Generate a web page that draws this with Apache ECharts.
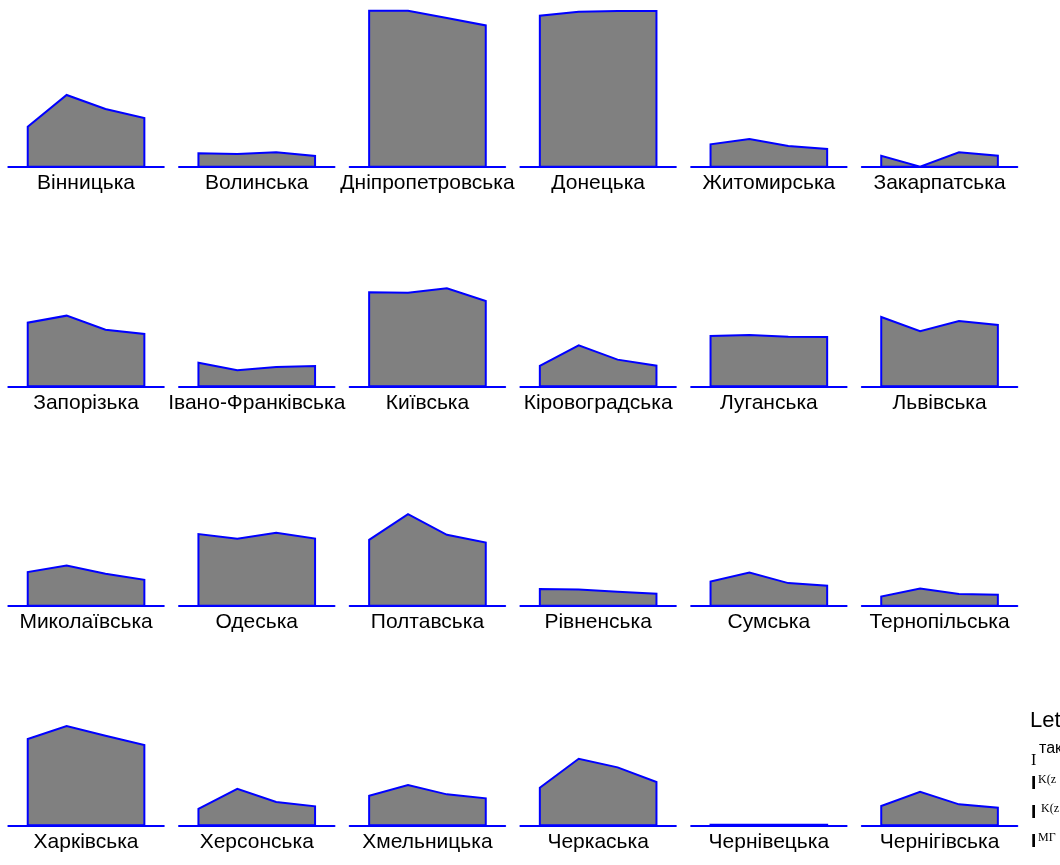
<!DOCTYPE html>
<html>
<head>
<meta charset="utf-8">
<script src="https://cdn.jsdelivr.net/npm/echarts@6/dist/echarts.min.js"></script>
<style>
  html, body { margin: 0; padding: 0; background: #fff; }
  #main { width: 1060px; height: 865px; }
</style>
</head>
<body>
<div id="main"></div>
<script>
const regions = [
  "Вінницька", "Волинська", "Дніпропетровська", "Донецька", "Житомирська", "Закарпатська",
  "Запорізька", "Івано-Франківська", "Київська", "Кіровоградська", "Луганська", "Львівська",
  "Миколаївська", "Одеська", "Полтавська", "Рівненська", "Сумська", "Тернопільська",
  "Харківська", "Херсонська", "Хмельницька", "Черкаська", "Чернівецька", "Чернігівська"
];
const periods = ["1", "2", "3", "4"];

// values for each period, same order as regions
const v1 = [40, 13.4, 156, 151, 22.4, 11, 63.6, 23.6, 94, 20.3, 50.3, 69.3, 33.7, 71.7, 66, 16.7, 24.3, 9.3, 86.3, 16.6, 29.6, 37.6, 0.5, 19.3];
const v2 = [71.7, 12.7, 156, 155, 27.7, 0, 70.6, 16, 93.6, 41, 51.3, 55, 40.3, 67, 91.7, 16.3, 33.3, 17.3, 99.3, 36.6, 40.3, 66.6, 0.5, 33.6];
const v3 = [57.7, 14.4, 148.7, 155.7, 20.7, 14.4, 56.6, 19.3, 98, 26.6, 49.6, 65.3, 32, 73, 71, 14, 22.7, 11.7, 89.6, 23.3, 31, 58, 0.5, 21];
const v4 = [48.7, 10.7, 141.3, 155.7, 17.7, 11, 52.3, 20.3, 85.3, 20.6, 49.3, 61.3, 26, 67.3, 63.3, 12, 20, 11, 80.3, 19, 27, 43.3, 0.5, 17.6];

const chart = echarts.init(document.getElementById("main"));

const yMax = Math.max(...v1, ...v2, ...v3, ...v4);
const plotH = 156;

let grids = [];
let xAxes = [];
let yAxes = [];
let series = [];

regions.forEach(function (name, i) {
  const col = i % 6;
  const row = Math.floor(i / 6);
  const base = 166.7 + row * 219.55;
  const vals = [v1[i], v2[i], v3[i], v4[i]];

  grids.push({
    left: 8.3 + col * 170.7,
    top: base - plotH,
    width: 155.5,
    height: plotH
  });
  xAxes.push({
    gridIndex: i,
    type: "category",
    data: periods,
    boundaryGap: true,
    axisLine: { lineStyle: { color: "#0000ff", width: 2 } },
    axisTick: { show: false },
    axisLabel: { show: false },
    splitLine: { show: false },
    name: name,
    nameLocation: "middle",
    nameGap: 6,
    nameTextStyle: {
      color: "#000",
      fontSize: 21,
      fontFamily: "Liberation Sans",
      verticalAlign: "top"
    }
  });
  yAxes.push({
    gridIndex: i,
    type: "value",
    min: 0,
    max: yMax,
    show: false
  });
  series.push({
    type: "custom",
    xAxisIndex: i,
    yAxisIndex: i,
    clip: false,
    data: vals.map(function (v, k) { return [k, v]; }),
    renderItem: function (params, api) {
      if (params.dataIndex !== 0) return;
      let pts = [api.coord([0, 0])];
      vals.forEach(function (v, k) { pts.push(api.coord([k, v])); });
      pts.push(api.coord([vals.length - 1, 0]));
      return {
        type: "polygon",
        shape: { points: pts },
        style: { fill: "#808080", stroke: "#0000ff", lineWidth: 2 }
      };
    }
  });
});

const serif = '"Liberation Serif"';
const sans = '"Liberation Sans"';

const option = {
  animation: false,
  grid: grids,
  xAxis: xAxes,
  yAxis: yAxes,
  series: series,
  graphic: [
    { type: "text", left: 1030, top: 710, style: { text: "Let", font: "22px " + sans, fill: "#000" } },
    { type: "text", left: 1031, top: 753, style: { text: "I", font: "16px " + serif, fill: "#000" } },
    { type: "text", left: 1039, top: 741, style: { text: "так", font: "16px " + sans, fill: "#000" } },
    { type: "text", left: 1031, top: 774, style: { text: "I", font: "bold 19px " + sans, fill: "#000" } },
    { type: "text", left: 1038, top: 774, style: { text: "K(z", font: "12px " + serif, fill: "#000" } },
    { type: "text", left: 1031, top: 803, style: { text: "I", font: "bold 19px " + sans, fill: "#000" } },
    { type: "text", left: 1041, top: 803, style: { text: "K(z", font: "12px " + serif, fill: "#000" } },
    { type: "text", left: 1031, top: 832, style: { text: "I", font: "bold 19px " + sans, fill: "#000" } },
    { type: "text", left: 1038, top: 832, style: { text: "МГ", font: "12px " + serif, fill: "#000" } }
  ]
};

chart.setOption(option);
</script>
</body>
</html>
